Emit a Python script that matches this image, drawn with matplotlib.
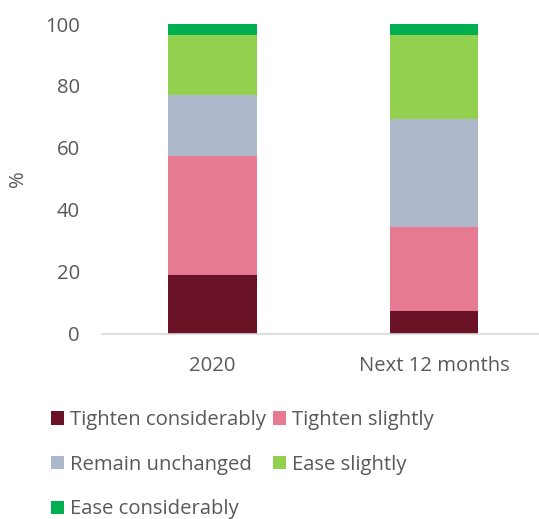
import matplotlib
matplotlib.use('Agg')
import matplotlib.pyplot as plt
import numpy as np

# survey shares (%)
categories = ['2020', 'Next 12 months']
series_names = ['Tighten considerably', 'Tighten slightly', 'Remain unchanged',
                'Ease slightly', 'Ease considerably']
tighten_considerably = [18.9, 7.3]
tighten_slightly = [38.6, 27.0]
remain_unchanged = [19.4, 35.0]
ease_slightly = [19.4, 27.0]
ease_considerably = [3.7, 3.7]
y_ticks = [0, 20, 40, 60, 80, 100]

colors = ['#6a1226', '#e77a93', '#adb9ca', '#92d050', '#00b050']
text_color = '#595959'
fs = 14.6

plt.rcParams['font.family'] = ['Open Sans', 'DejaVu Sans']

fig = plt.figure(figsize=(5.39, 5.19), dpi=100)
ax = fig.add_axes([102 / 539, 1 - 333.5 / 519, 1 - 102 / 539, (333.5 - 24) / 519])

series = [tighten_considerably, tighten_slightly, remain_unchanged,
          ease_slightly, ease_considerably]
x = np.arange(len(categories))
bottom = np.zeros(len(categories))
handles = []
for name, vals, col in zip(series_names, series, colors):
    b = ax.bar(x, vals, width=0.4, bottom=bottom, color=col, label=name, zorder=2)
    handles.append(b)
    bottom += np.array(vals)

ax.set_xlim(-0.5, 1.475)
ax.set_ylim(0, 100)
ax.set_yticks(y_ticks)
ax.set_xticks(x)
ax.set_xticklabels(categories)
ax.tick_params(axis='both', length=0, labelsize=fs, colors=text_color)
ax.tick_params(axis='y', pad=16)
ax.tick_params(axis='x', pad=16)
ax.set_ylabel('%', fontsize=fs, color=text_color, labelpad=12)

for s in ['top', 'right', 'left']:
    ax.spines[s].set_visible(False)
ax.spines['bottom'].set_color('#d9d9d9')
ax.spines['bottom'].set_linewidth(1.2)

# excel fills the legend row by row, matplotlib column by column
order = [0, 2, 4, 1, 3]
leg = fig.legend([handles[i] for i in order], [series_names[i] for i in order],
                 ncol=2, loc='upper left', bbox_to_anchor=(51 / 539, 1 - 410 / 519),
                 frameon=False, fontsize=fs, handlelength=0.65, handleheight=0.65,
                 handletextpad=0.3, columnspacing=0.35, labelspacing=1.22,
                 borderaxespad=0, borderpad=0)
for t in leg.get_texts():
    t.set_color(text_color)

fig.savefig('out.png', dpi=100)
